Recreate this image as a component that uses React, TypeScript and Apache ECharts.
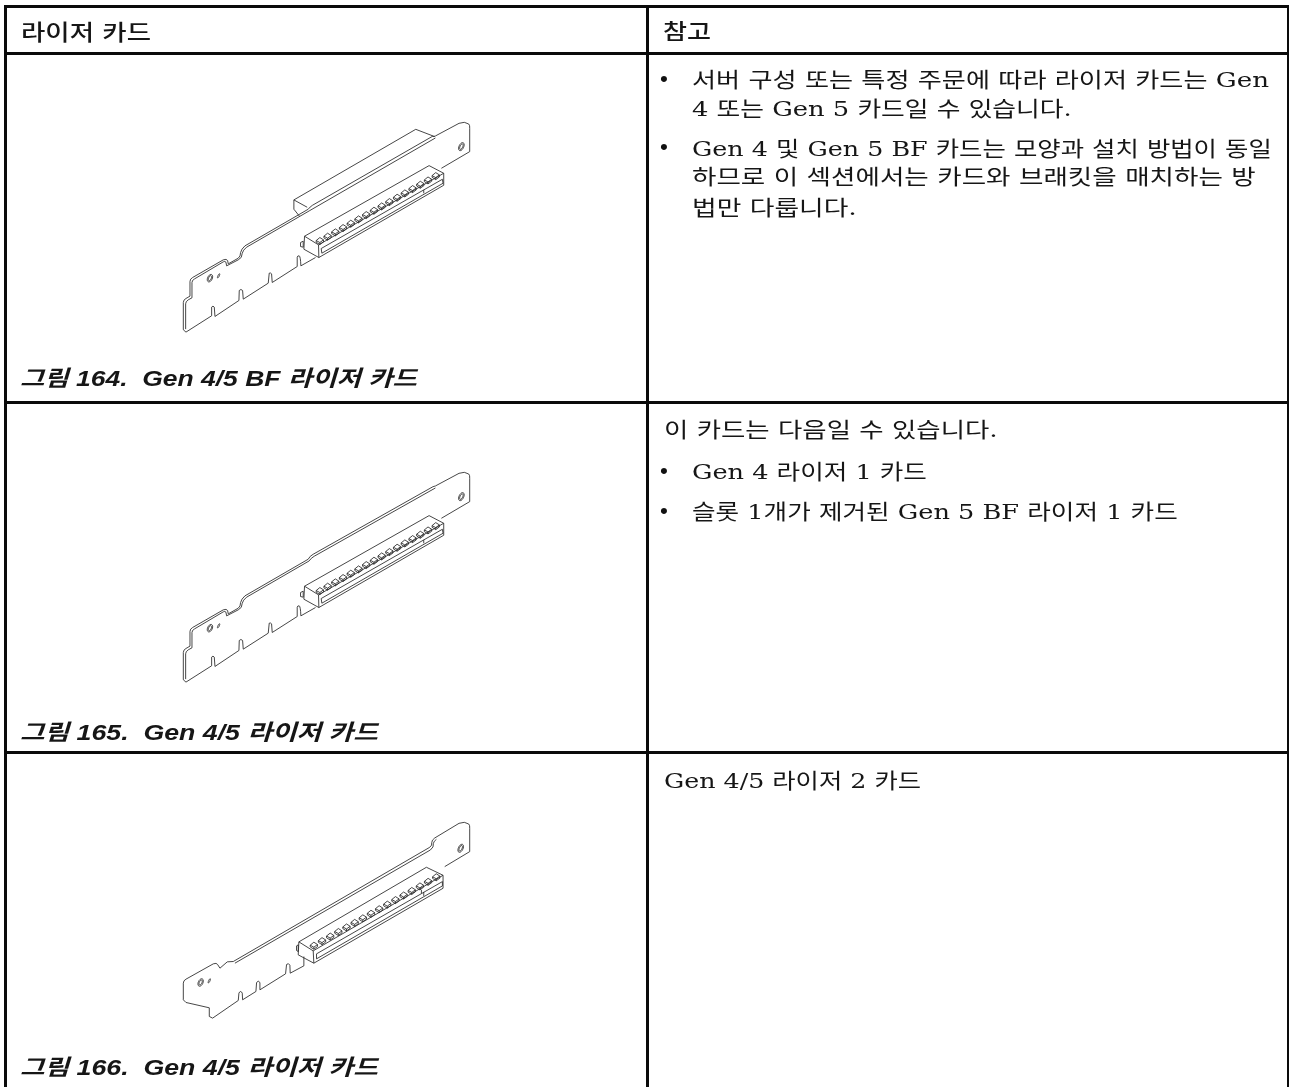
import React, { useEffect, useRef } from "react";
import * as echarts from "echarts";

const W = 1289;
const H = 1087;
const SERIF = '"DejaVu Serif","Noto Sans CJK KR"';
const SANS = '"Liberation Sans","Noto Sans CJK KR"';

// Text content
const headerLeft = "라이저 카드";
const headerRight = "참고";
const captions = [
  "그림 164.  Gen 4/5 BF 라이저 카드",
  "그림 165.  Gen 4/5 라이저 카드",
  "그림 166.  Gen 4/5 라이저 카드",
];
const bullets = ["•", "•", "•", "•"];
const noteLines = [
  "서버 구성 또는 특정 주문에 따라 라이저 카드는 Gen",
  "4 또는 Gen 5 카드일 수 있습니다.",
  "Gen 4 및 Gen 5 BF 카드는 모양과 설치 방법이 동일",
  "하므로 이 섹션에서는 카드와 브래킷을 매치하는 방",
  "법만 다룹니다.",
  "이 카드는 다음일 수 있습니다.",
  "Gen 4 라이저 1 카드",
  "슬롯 1개가 제거된 Gen 5 BF 라이저 1 카드",
  "Gen 4/5 라이저 2 카드",
];
// [x, centre y, right edge] of every note line
const noteLayout = [
  [692, 80, 1269],
  [692, 109, 1072],
  [692, 148, 1272],
  [692, 177, 1256],
  [692, 208, 857],
  [664, 430, 998],
  [692, 472, 927],
  [692, 512, 1178],
  [664, 780, 921],
];
const bulletLayout = [
  [664, 80],
  [664, 148],
  [664, 472],
  [664, 512],
];
const captionLayout = [
  [20, 378, 417],
  [20, 732, 378],
  [20, 1067, 378],
];

// Illustration outlines, in 3x drawing units
const hole = (cx: number, cy: number, a: number, b: number) => {
  const tilt = (-65 * Math.PI) / 180;
  let d = "";
  for (let k = 0; k < 20; k++) {
    const t = (k / 20) * 2 * Math.PI;
    const ex = a * Math.cos(t);
    const ey = b * Math.sin(t);
    const px = cx + ex * Math.cos(tilt) - ey * Math.sin(tilt);
    const py = cy + ex * Math.sin(tilt) + ey * Math.cos(tilt);
    d += `${k === 0 ? "M" : "L"}${px.toFixed(1)},${py.toFixed(1)} `;
  }
  return d + "Z ";
};
const teeth = (x0: number, y0: number, dx: number, dy: number, n: number) => {
  let d = "";
  for (let i = 0; i < n; i++) {
    const x = x0 + dx * i;
    const y = y0 + dy * i;
    d += `M${x - 11},${y + 1} L${x},${y - 8} L${x + 11},${y - 1} L${x},${y + 7} Z `;
    d += `M${x - 11},${y + 1} L${x - 11},${y + 6} L${x},${y + 13} L${x + 11},${y + 5} L${x + 11},${y - 1} `;
    d += `M${x},${y + 7} L${x},${y + 13} `;
  }
  return d;
};

const plateLong =
  "M437,443 L393,468 Q392,440 388,438 Q383,437 382,442 L382,470 L307,518 L305,492 Q302,488 298,490 L295,520 L220,568 L218,542 Q213,536 208,542 L207,572 L135,620 L133,592 Q129,586 125,592 L125,618 L48,667 L40,660 L40,578 Q40,570 48,566 L60,559 L60,515 Q60,507 68,503 L160,450 Q170,446 173,452 L175,462 L205,445 Q212,440 212,428 Q214,418 225,408 L415,298 ";
const innerLong =
  "M47,658 L47,582 Q47,575 55,570 L66,564 L66,518 Q66,511 74,507 L160,456 Q165,453 168,457 L170,468 L205,450 Q217,445 217,430 Q219,421 230,412 L418,303 ";
const earLong =
  "M797,78 L868,40 Q885,33 897,42 Q901,46 900,55 L900,125 L815,175 M790,80 L797,78 ";
const connectorLong =
  "M404,379 L778,167 L822,190 L822,226 L447,443 L402,418 Z M404,379 L446,405 L447,443 M446,405 L822,190 M454,416 L818,208 L820,220 L456,430 Z M762,240 L762,250 M392,398 L400,394 L400,412 L392,410 Z ";
const holesLong = hole(875, 110, 13, 7) + hole(875, 110, 9, 4) + hole(120, 505, 12, 7) + hole(120, 505, 8, 4) + hole(146, 498, 7, 2);
const teethLong = teeth(450, 391, 23.2, -13, 16);

const flange =
  "M415,298 Q420,291 428,286 L790,78 M418,303 L797,84 M372,270 L738,58 L795,80 M372,270 L412,292 M372,270 L372,298 L388,318 ";
const plainTop = "M415,298 Q420,288 430,283 L790,80 M418,303 Q423,295 433,289 L797,84 ";

const card1 = plateLong + innerLong + earLong + connectorLong + holesLong + teethLong + flange;
const card2 = plateLong + innerLong + earLong + connectorLong + holesLong + teethLong + plainTop;
const card3 =
  "M402,440 L402,468 L361,490 L360,466 Q356,458 350,464 L347,492 L270,540 L270,518 Q265,510 260,518 L258,545 L218,570 L217,550 Q212,540 207,550 L205,572 L128,625 L118,620 L118,594 L48,578 L40,570 L40,520 Q40,512 48,508 L130,462 Q140,458 143,464 L150,475 L172,456 L190,455 L780,112 Q788,106 786,98 Q786,90 795,84 L868,40 Q885,33 897,42 Q901,46 900,55 L900,125 L825,170 " +
  "M195,460 L782,120 Q793,112 791,100 Q792,94 800,88 " +
  "M387,396 L770,172 L820,196 L820,235 L432,460 L385,435 Z M387,396 L430,423 L432,460 M430,423 L820,196 M440,432 L818,215 L818,228 L440,447 Z M755,250 L755,240 M762,258 L762,246 M380,408 L385,405 L385,425 L380,422 Z " +
  hole(873, 115, 13, 7) + hole(873, 115, 9, 4) + hole(92, 518, 12, 7) + hole(92, 518, 8, 4) + hole(118, 513, 7, 2) +
  teeth(432, 405, 24.5, -13.7, 16);

echarts.graphic.registerShape("riserFlange", echarts.graphic.extendPath(card1, {}));
echarts.graphic.registerShape("riserPlain", echarts.graphic.extendPath(card2, {}));
echarts.graphic.registerShape("riserLow", echarts.graphic.extendPath(card3, {}));

const cards = [
  ["riserFlange", 110],
  ["riserPlain", 460],
  ["riserLow", 810],
] as const;

// Table rule rectangles [x, y, w, h]
const rules = [
  [4, 5, 1285, 3],
  [4, 52, 1285, 3],
  [4, 401, 1285, 3],
  [4, 751, 1285, 3],
  [4, 5, 3, 1082],
  [646, 5, 3, 1082],
  [1287, 5, 2, 1082],
];

const measurer = document.createElement("canvas").getContext("2d")!;
const fitted = (text: string, font: string, x: number, y: number, right: number) => {
  measurer.font = font;
  const w = measurer.measureText(text).width;
  return {
    type: "text",
    x,
    y,
    scaleX: (right - x) / w,
    style: { text, font, fill: "#161616", verticalAlign: "middle", align: "left" },
  };
};

export default function App() {
  const ref = useRef<HTMLDivElement>(null);
  useEffect(() => {
    document.body.style.margin = "0";
    document.body.style.overflow = "hidden";
    const chart = echarts.init(ref.current!, null, { renderer: "svg" });
    const bodyFont = `21px ${SERIF}`;
    const headFont = `500 22px ${SERIF}`;
    const capFont = `italic bold 22px ${SANS}`;
    const elements: any[] = [
      { type: "rect", shape: { x: 0, y: 0, width: W, height: H }, style: { fill: "#fff" } },
    ];
    rules.forEach(([x, y, w, h]) =>
      elements.push({ type: "rect", shape: { x, y, width: w, height: h }, style: { fill: "#0a0a0a" } })
    );
    cards.forEach(([shape, y]) =>
      elements.push({
        type: shape,
        x: 170,
        y,
        scaleX: 1 / 3,
        scaleY: 1 / 3,
        style: { fill: "none", stroke: "#2a2a2a", lineWidth: 2.6 },
      })
    );
    elements.push(fitted(headerLeft, headFont, 21, 32, 151));
    elements.push(fitted(headerRight, headFont, 663, 32, 711));
    noteLines.forEach((t, i) => {
      const [x, y, r] = noteLayout[i];
      elements.push(fitted(t, bodyFont, x, y, r));
    });
    bullets.forEach((t, i) => {
      const [x, y] = bulletLayout[i];
      elements.push({
        type: "text",
        x,
        y,
        style: { text: t, font: `21px ${SERIF}`, fill: "#111", verticalAlign: "middle", align: "center" },
      });
    });
    captions.forEach((t, i) => {
      const [x, y, r] = captionLayout[i];
      elements.push(fitted(t, capFont, x, y, r));
    });
    chart.setOption({ animation: false, graphic: { elements } });
    return () => chart.dispose();
  }, []);
  return <div ref={ref} style={{ position: "fixed", left: 0, top: 0, width: W, height: H }} />;
}
